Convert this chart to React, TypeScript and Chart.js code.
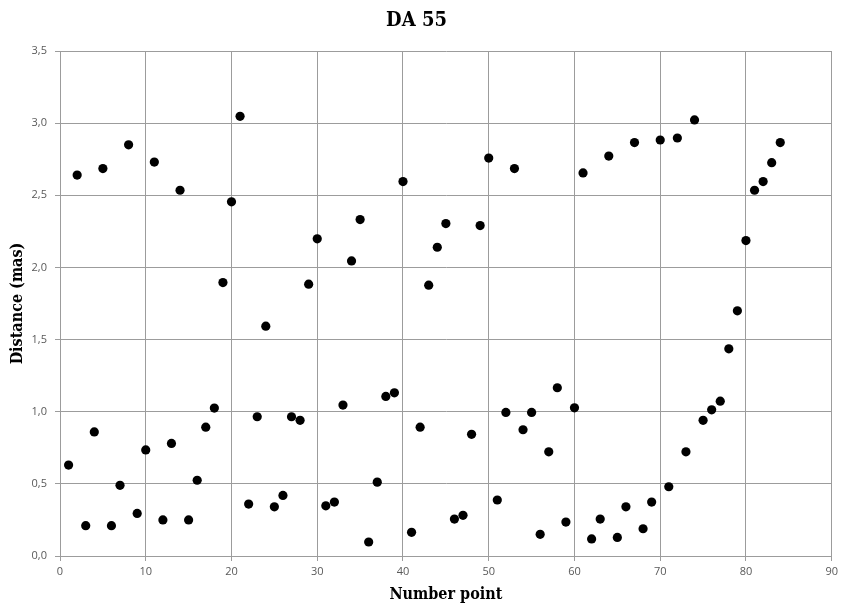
import React, { useEffect, useRef } from "react";
import { Chart, registerables } from "chart.js";

Chart.register(...registerables);

const pointNumbers: number[] = [
  1, 2, 3, 4, 5, 6, 7, 8, 9, 10, 11, 12, 13, 14, 15, 16, 17, 18, 19, 20, 21,
  22, 23, 24, 25, 26, 27, 28, 29, 30, 31, 32, 33, 34, 35, 36, 37, 38, 39, 40,
  41, 42, 43, 44, 45, 46, 47, 48, 49, 50, 51, 52, 53, 54, 55, 56, 57, 58, 59,
  60, 61, 62, 63, 64, 65, 66, 67, 68, 69, 70, 71, 72, 73, 74, 75, 76, 77, 78,
  79, 80, 81, 82, 83, 84,
];

const distances: number[] = [
  0.63, 2.64, 0.21, 0.86, 2.685, 0.21, 0.49, 2.85, 0.295, 0.735, 2.73, 0.25,
  0.78, 2.535, 0.25, 0.525, 0.893, 1.025, 1.895, 2.455, 3.047, 0.36, 0.965,
  1.593, 0.341, 0.42, 0.965, 0.94, 1.884, 2.198, 0.348, 0.374, 1.046, 2.045,
  2.332, 0.097, 0.512, 1.106, 1.131, 2.595, 0.164, 0.893, 1.877, 2.14, 2.304,
  0.256, 0.282, 0.843, 2.29, 2.758, 0.388, 0.995, 2.685, 0.875, 0.995, 0.15,
  0.722, 1.166, 0.235, 1.027, 2.655, 0.118, 0.256, 2.772, 0.129, 0.341, 2.865,
  0.189, 0.374, 2.883, 0.48, 2.897, 0.722, 3.022, 0.94, 1.013, 1.073, 1.436,
  1.699, 2.186, 2.535, 2.595, 2.726, 2.865,
];

const chartTitle = "DA 55";
const xTitle = "Number point";
const yTitle = "Distance (mas)";

const xMin = 0;
const xMax = 90;
const xStep = 10;
const yMin = 0;
const yMax = 3.5;
const yStep = 0.5;

const heavyFont = "'DejaVu Serif', 'Liberation Serif', serif";
const heavyWeight: any = "bold condensed";
const tickFont = "'Open Sans', 'Lato', sans-serif";
const gridColor = "#9c9c9c";
const tickColor = "#595959";

export default function App() {
  const canvasRef = useRef<HTMLCanvasElement | null>(null);

  useEffect(() => {
    const canvas = canvasRef.current;
    if (!canvas) return;
    const data = pointNumbers.map((x, i) => ({ x, y: distances[i] }));
    const chart = new Chart(canvas, {
      type: "scatter",
      data: {
        datasets: [
          {
            label: chartTitle,
            data,
            backgroundColor: "#000000",
            borderColor: "#000000",
            pointRadius: 4.6,
            pointBorderWidth: 0,
          },
        ],
      },
      options: {
        responsive: false,
        animation: false,
        layout: { padding: { left: 0, right: 9, top: 0, bottom: 0 } },
        plugins: {
          legend: { display: false },
          tooltip: { enabled: false },
          title: {
            display: true,
            text: chartTitle,
            color: "#000000",
            font: { family: heavyFont, size: 20, weight: heavyWeight },
            padding: { top: 9, bottom: 18 },
          },
        },
        scales: {
          x: {
            type: "linear",
            min: xMin,
            max: xMax,
            ticks: {
              stepSize: xStep,
              color: tickColor,
              font: { family: tickFont, size: 11 },
              padding: 4,
              maxRotation: 0,
            },
            grid: {
              color: gridColor,
              lineWidth: 1,
              tickLength: 5,
              drawTicks: true,
            },
            border: { color: gridColor, width: 1 },
            title: {
              display: true,
              text: xTitle,
              color: "#000000",
              font: { family: heavyFont, size: 16, weight: heavyWeight },
              padding: { top: 0, bottom: 4 },
            },
            afterFit: (scale: any) => {
              scale.height = 52;
            },
          },
          y: {
            type: "linear",
            min: yMin,
            max: yMax,
            ticks: {
              stepSize: yStep,
              color: tickColor,
              font: { family: tickFont, size: 11 },
              padding: 8,
              callback: (v: any) => Number(v).toFixed(1).replace(".", ","),
            },
            grid: {
              color: gridColor,
              lineWidth: 1,
              tickLength: 5,
              drawTicks: true,
            },
            border: { color: gridColor, width: 1 },
            title: {
              display: true,
              text: yTitle,
              color: "#000000",
              font: { family: heavyFont, size: 16, weight: heavyWeight },
              padding: { top: 8, bottom: 0 },
            },
            afterFit: (scale: any) => {
              scale.width = 60;
            },
          },
        },
      },
    });
    return () => chart.destroy();
  }, []);

  return (
    <div
      style={{
        position: "fixed",
        left: 0,
        top: 0,
        width: 842,
        height: 608,
        background: "#ffffff",
      }}
    >
      <canvas ref={canvasRef} width={842} height={608} style={{ display: "block" }} />
    </div>
  );
}
